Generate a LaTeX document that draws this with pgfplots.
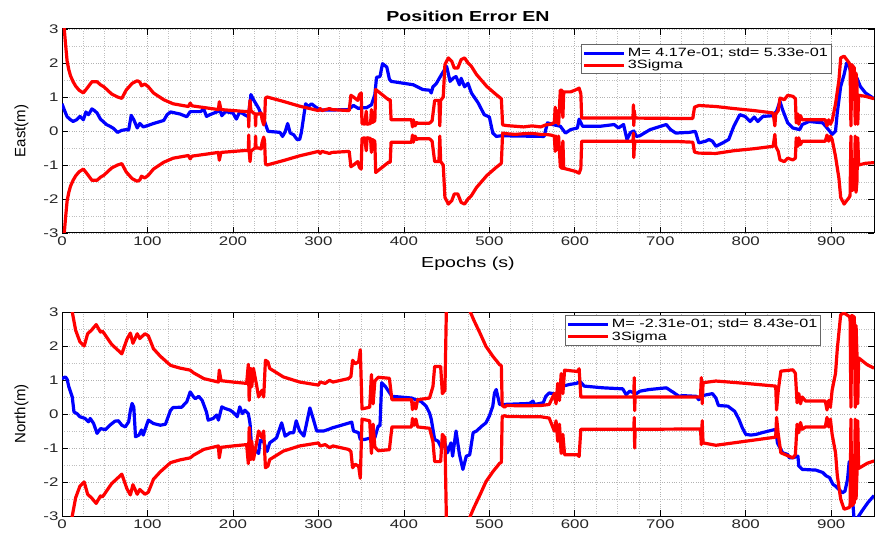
\documentclass[border=0pt]{standalone}
\usepackage{fontspec}
\setmainfont{Liberation Sans}[FakeStretch=1.35]
\newfontfamily\ylabfont{Liberation Sans}
\usepackage{pgfplots}
\pgfplotsset{compat=1.18}
\pgfplotstableread{
x y
0 0.80
3 0.6
6 0.42
10 0.33
13 0.28
17 0.33
21 0.43
23 0.38
25 0.33
28 0.56
31 0.48
35 0.65
38 0.6
41 0.53
45 0.35
52 0.19
56 0.14
60 0.08
65 -0.04
70 0.02
75 0.04
78 0.03
81 0.46
84 0.33
88 0.09
91 0.22
95 0.12
99 0.15
107 0.22
115 0.28
119 0.31
123 0.48
127 0.56
138 0.5
146 0.42
150 0.57
162 0.57
166 0.64
169 0.43
173 0.48
177 0.52
185 0.6
187 0.45
191 0.57
200 0.53
204 0.35
208 0.57
214 0.47
218 0.42
221 1.07
224 0.92
230 0.67
234 0.43
237 0.28
241 -0.01
255 -0.04
258 -0.16
261 -0.03
264 0.22
267 -0.06
271 -0.11
275 -0.25
278 -0.25
280 -0.05
285 0.8
288 0.72
292 0.8
296 0.72
302 0.62
320 0.62
335 0.63
341 0.75
347 0.66
350 0.69
356 0.68
362 0.77
366 1.07
368 1.58
372 1.6
375 1.98
380 1.88
383 1.53
385 1.46
411 1.36
422 1.22
430 1.2
432 1.12
434 1.3
438 1.4
444 1.66
450 1.9
454 1.46
458 1.56
461 1.6
465 1.36
467 1.55
471 1.3
475 1.4
479 1.12
487 0.82
494 0.48
500 0.41
504 -0.06
508 -0.16
514 -0.14
564 -0.16
568 0.24
574 0.19
583 0.14
589 -0.06
595 0.04
603 0.09
605 0.35
609 0.14
630 0.14
646 0.19
651 0.09
657 0.19
661 -0.25
665 -0.05
669 0.0
672 -0.16
676 -0.14
688 0.04
703 0.16
707 0.19
712 0.04
718 -0.06
734 -0.04
741 -0.01
745 -0.35
753 -0.3
757 -0.25
761 -0.3
765 -0.45
773 -0.35
780 -0.25
786 0.14
793 0.48
799 0.43
805 0.28
810 0.41
814 0.28
820 0.43
832 0.45
834 0.53
836 0.58
840 0.87
843 0.63
849 0.24
855 0.09
863 0.04
866 0.19
874 0.28
890 0.24
898 0.0
901 -0.1
905 0.0
907 0.53
911 1.31
915 1.66
918 2.0
921 1.9
925 1.51
930 1.56
934 1.31
940 1.12
950 0.95
}\eastblue
\pgfplotstableread{
x up lo
0 4.5 -4.5
2 3.2 -3.2
4 2.6 -2.6
6 2.05 -2.05
8 1.8 -1.8
10 1.62 -1.62
13 1.45 -1.45
16 1.32 -1.32
20 1.2 -1.2
25 1.12 -1.12
30 1.28 -1.28
35 1.45 -1.45
41 1.45 -1.45
45 1.36 -1.36
49 1.3 -1.3
58 1.09 -1.09
65 1.0 -1.0
70 0.96 -0.96
75 1.2 -1.2
82 1.4 -1.4
88 1.48 -1.48
91 1.44 -1.44
93 1.33 -1.33
97 1.38 -1.38
101 1.3 -1.3
107 1.12 -1.12
119 0.92 -0.92
130 0.8 -0.8
148 0.72 -0.72
150 0.82 -0.82
152 0.74 -0.74
183 0.63 -0.63
184 0.86 -0.86
186 0.63 -0.63
216 0.57 -0.57
218 0.58 -0.58
218.5 0.12 -0.12
219 0.6 -0.6
220 0.9 -0.9
221 0.6 -0.6
223 0.55 -0.55
226 0.5 -0.5
226.5 0.15 -0.15
227 0.5 -0.5
230 0.5 -0.5
233 0.53 -0.53
234 0.35 -0.35
236 0.18 -0.18
237 0.3 -0.3
238 0.97 -0.97
240 1.0 -1.0
259 0.87 -0.87
278 0.73 -0.73
300 0.6 -0.6
302 0.66 -0.66
304 0.6 -0.6
313 0.66 -0.66
316 0.63 -0.63
336 0.6 -0.6
338 1.05 -1.05
341 1.0 -1.0
344 0.94 -0.94
346 0.9 -0.9
348 1.07 -1.07
350 1.12 -1.12
351 0.22 -0.22
354 0.2 -0.2
356 0.58 -0.58
357 0.2 -0.2
361 0.22 -0.22
362 0.63 -0.63
363 0.25 -0.25
366 0.3 -0.3
367 1.22 -1.22
372 1.12 -1.12
382 0.92 -0.92
384 0.92 -0.92
385 0.33 -0.33
409 0.33 -0.33
410 0.12 -0.12
411 0.33 -0.33
413 0.15 -0.15
415 0.25 -0.25
416 0.23 -0.23
430 0.23 -0.23
433 0.3 -0.3
436 0.9 -0.9
441 0.9 -0.9
442 0.15 -0.15
443 0.9 -0.9
446 1.0 -1.0
448 1.95 -1.95
452 2.15 -2.15
456 2.05 -2.05
459 1.85 -1.85
463 1.85 -1.85
467 2.1 -2.1
471 2.15 -2.15
475 2.0 -2.0
479 1.9 -1.9
485 1.66 -1.66
497 1.31 -1.31
508 1.07 -1.07
514 0.95 -0.95
515.5 0.18 -0.06
520 0.16 -0.08
530 0.14 -0.1
540 0.12 -0.08
550 0.15 -0.07
560 0.12 -0.1
566 0.18 -0.1
572 0.2 -0.12
576 0.25 -0.15
577 0.7 -0.6
578 0.25 -0.15
580 0.6 -0.55
581 0.2 -0.15
583 1.2 -1.05
585 1.2 -1.1
586 0.4 -0.3
587 1.15 -1.1
595 1.15 -1.15
601 1.21 -1.19
605 1.26 -1.24
607 1.1 -1.1
608 0.38 -0.3
668 0.38 -0.3
668.5 0.77 -0.06
669 0.16 -0.78
669.5 0.6 -0.5
670.5 0.38 -0.3
720 0.37 -0.31
738 0.37 -0.33
740 0.7 -0.62
745 0.75 -0.65
765 0.72 -0.66
786 0.66 -0.58
810 0.6 -0.52
832 0.53 -0.45
834 0.15 -0.1
835 0.5 -0.45
838 0.6 -0.6
840 0.97 -0.85
845 0.92 -0.9
849 1.05 -0.8
855 1.02 -0.85
858 0.95 -0.8
859 0.24 -0.2
861 0.5 -0.45
862 0.2 -0.2
864 0.45 -0.4
866 0.33 -0.3
893 0.33 -0.3
895 0.15 -0.12
897 0.33 -0.3
899 0.2 -0.15
901 0.3 -0.25
905 0.8 -0.75
909 1.5 -1.4
911 2.15 -1.95
915 2.2 -2.15
918 2.1 -2.05
921 2.0 -1.95
922 1.9 -1.9
923 0.15 -0.15
924 1.95 -1.75
927 1.85 -1.7
928 0.2 -0.15
929 1.7 -1.8
930 1.4 -1.5
931 0.2 -0.2
932 1.05 -1.0
940 1.02 -0.95
950 0.95 -0.93
}\eastred
\pgfplotstableread{
x y
0 1.04
4 1.09
6 1.02
8 0.8
12 0.5
14 0.06
17.5 0.01
21 -0.08
27 -0.13
31 -0.23
33 -0.13
37 -0.28
41 -0.57
45 -0.43
51 -0.46
56 -0.33
62 -0.21
66 -0.2
70 -0.33
74 -0.38
78 -0.23
80 0.1
82 0.31
84 0.2
86 -0.67
90 -0.62
93 -0.47
95 -0.62
101 -0.18
107 -0.28
115 -0.33
121 -0.3
127 0.11
130 0.19
140 0.2
146 0.36
150 0.65
154 0.5
156 0.45
160 0.52
164 0.4
169 0.06
171 -0.18
177 -0.13
181 -0.03
183 -0.18
187 0.21
191 0.16
197 0.11
202 0.01
205 -0.08
208 0.21
211 0.01
214 0.11
218 0.01
220 -0.28
222 -1.06
226 -1.06
230 -1.16
232 -0.77
236 -0.82
240 -1.1
243 -0.85
251 -0.7
257 -0.26
261 -0.65
267 -0.55
271 -0.55
274 -0.2
278 -0.5
283 -0.65
290 0.18
294 -0.15
298 -0.5
306 -0.5
312 -0.45
316 -0.41
331 -0.3
339 -0.24
341 -0.5
347 -0.55
349 -0.75
354 -0.75
362 -0.7
366 -0.7
370 -0.35
372 -0.35
374 0.92
378 0.82
382 0.67
386 0.52
409 0.47
414 0.42
420 0.37
426 0.23
430 0.03
432 -0.15
436 -0.75
440 -0.8
444 -1.0
448 -0.85
451 -1.14
455 -0.85
457 -1.24
461 -0.5
465 -1.19
469 -1.63
473 -1.24
477 -1.2
481 -0.55
485 -0.5
491 -0.36
496 -0.26
500 -0.06
504 0.23
506 0.62
508 0.72
512 0.28
516 0.28
547 0.31
551 0.38
553 0.28
563 0.33
566 0.52
570 0.62
580 0.57
586 0.82
594 0.87
602 0.9
606 0.96
611 0.82
633 0.77
656 0.74
660 0.57
664 0.67
672 0.6
676 0.67
687 0.72
707 0.77
715 0.64
722 0.52
726 0.54
742 0.52
745 0.42
749 0.54
761 0.6
765 0.47
768 0.25
779 0.23
787 0.08
792 -0.16
796 -0.41
800 -0.6
806 -0.62
812 -0.6
819 -0.55
827 -0.5
835 -0.45
837 -0.85
843 -1.14
849 -1.19
851 -1.29
855 -1.29
861 -1.24
862 -1.53
866 -1.63
882 -1.65
890 -1.72
894 -1.82
898 -1.87
902 -2.07
905 -2.12
909 -2.22
913 -2.32
916 -2.27
919 -1.93
921 -1.4
924 -2.2
927 -3.2
936 -2.85
943 -2.6
950 -2.4
}\northblue
\pgfplotstableread{
x up lo
0 5.0 -5.0
6 3.8 -3.8
12 3.0 -3.0
16 2.46 -2.46
21 2.12 -2.12
26 2.0 -2.0
30 2.36 -2.36
35 2.48 -2.48
40 2.63 -2.63
45 2.41 -2.41
47 2.44 -2.44
49 2.38 -2.38
58 2.05 -2.05
70 1.77 -1.77
76 2.2 -2.2
80 2.38 -2.38
83 2.08 -2.08
88 2.36 -2.36
91 2.22 -2.22
97 2.36 -2.36
101 2.3 -2.3
107 1.92 -1.92
115 1.7 -1.7
127 1.43 -1.43
138 1.35 -1.35
150 1.29 -1.29
154 1.21 -1.21
166 1.04 -1.04
183 0.94 -0.94
184 1.29 -1.29
186 0.98 -0.98
200 0.94 -0.94
216 0.9 -0.9
218 1.46 -1.46
219 0.4 -0.4
221 1.34 -1.34
222 0.8 -0.8
224 1.34 -1.34
228 0.8 -0.8
230 0.5 -0.5
234 0.7 -0.7
236 0.5 -0.5
238 1.58 -1.58
241 1.53 -1.53
243 1.34 -1.34
259 1.09 -1.09
278 0.94 -0.94
300 0.85 -0.85
302 0.94 -0.94
308 0.9 -0.9
313 0.99 -0.99
317 0.94 -0.94
335 1.04 -1.04
338 1.1 -1.1
340 1.58 -1.58
343 1.48 -1.48
347 1.53 -1.53
349 1.89 -1.89
351 0.15 -0.15
360 0.2 -0.2
362 1.16 -1.16
364 0.3 -0.3
366 0.97 -0.97
370 1.08 -1.08
383 1.05 -1.05
386 0.42 -0.38
409 0.42 -0.38
410 0.13 -0.13
412 0.33 -0.33
414 0.15 -0.15
416 0.42 -0.38
430 0.47 -0.42
434 0.81 -0.81
436 1.4 -1.4
443 1.4 -1.4
445 0.6 -0.6
448 0.7 -0.7
450 3.5 -3.5
460 5.0 -5.0
470 4.0 -4.0
476 3.1 -3.1
482 2.75 -2.75
489 2.38 -2.38
496 1.99 -1.99
504 1.7 -1.7
512 1.45 -1.45
514 1.42 -1.42
515 0.25 -0.07
518 0.2 -0.05
520 0.25 -0.07
540 0.24 -0.08
560 0.25 -0.08
570 0.28 -0.12
576 0.6 -0.5
578 0.3 -0.2
580 0.9 -0.8
582 0.4 -0.3
584 1.19 -1.16
586 0.6 -0.6
588 1.29 -1.2
603 1.25 -1.2
605 1.33 -1.25
607 0.5 -0.45
669 0.5 -0.45
669.5 1.07 -0.1
670 0.1 -1.0
670.5 0.5 -0.45
747 0.5 -0.44
748 1.07 -0.9
749 0.3 -0.2
750 0.92 -0.85
765 0.97 -0.92
800 0.9 -0.8
835 0.82 -0.68
836 0.12 -0.1
838 0.7 -0.6
841 1.26 -1.14
855 1.3 -1.29
858 1.2 -1.2
860 0.33 -0.3
862 0.6 -0.55
864 0.3 -0.25
866 0.5 -0.45
870 0.38 -0.38
893 0.38 -0.38
895 0.12 -0.1
897 0.4 -0.38
899 0.2 -0.15
901 0.7 -0.6
905 1.2 -1.14
907 1.9 -1.8
911 2.92 -2.5
915 2.97 -2.8
921 2.87 -2.75
922 2.8 -2.7
923 0.2 -0.15
924 2.9 -2.7
927 2.85 -2.6
928 0.2 -0.15
929 2.6 -2.5
930 1.8 -1.8
931 0.3 -0.2
932 1.65 -1.6
942 1.45 -1.45
950 1.35 -1.38
}\northred
\begin{document}
\begin{tikzpicture}[x=1pt,y=1pt]
\pgfplotsset{
 myax/.style={
  scale only axis, width=812pt, height=204pt,
  xmin=0, xmax=950, ymin=-3, ymax=3,
  xtick={0,100,...,900}, ytick={-3,-2,...,3},
  minor x tick num=3, minor y tick num=1,
  grid=both,
  major grid style={dotted, gray!60, line width=0.8pt},
  minor grid style={dotted, gray!50, line width=0.7pt},
  tick align=inside,
  major tick length=6pt, minor tick length=0pt,
  tick style={black, line width=0.7pt},
  axis line style={black, line width=1pt},
  ticklabel style={font=\fontsize{12.5}{14}\selectfont, text=black!85},
  /pgf/number format/assume math mode=true,
  legend style={font=\fontsize{12}{14}\selectfont, draw=black!60, line width=0.8pt, fill=white, inner sep=1.5pt, row sep=-2pt, cells={anchor=west}},
  legend image code/.code={\draw[#1, line width=3pt] (0pt,0pt) -- (40pt,0pt);},
  ylabel style={font=\ylabfont\fontsize{15}{17}\selectfont, yshift=8pt},
 },
 bl/.style={blue, line width=3.2pt, line join=round},
 rd/.style={red, line width=3.2pt, line join=round},
}
\begin{axis}[myax, at={(62pt,300pt)}, anchor=south west,
  title={\bfseries Position Error EN},
  title style={font=\fontsize{14.5}{16}\selectfont, yshift=-2pt},
  xlabel={Epochs (s)}, xlabel style={font=\fontsize{14.5}{16}\selectfont, yshift=-5pt},
  ylabel={East(m)},
  legend style={at={(0.948,0.926)}, anchor=north east}]
\addplot[bl] table[x=x,y=y]{\eastblue};
\addlegendentry{M= 4.17e-01; std= 5.33e-01}
\addplot[rd] table[x=x,y=up]{\eastred};
\addlegendentry{3Sigma}
\addplot[rd, forget plot] table[x=x,y=lo]{\eastred};
\end{axis}
\begin{axis}[myax, at={(62pt,17pt)}, anchor=south west,
  ylabel={North(m)},
  legend style={at={(0.935,0.984)}, anchor=north east}]
\addplot[bl] table[x=x,y=y]{\northblue};
\addlegendentry{M= -2.31e-01; std= 8.43e-01}
\addplot[rd] table[x=x,y=up]{\northred};
\addlegendentry{3Sigma}
\addplot[rd, forget plot] table[x=x,y=lo]{\northred};
\end{axis}
\pgfresetboundingbox
\path (0pt,0pt) rectangle (875pt,533pt);
\end{tikzpicture}
\end{document}
